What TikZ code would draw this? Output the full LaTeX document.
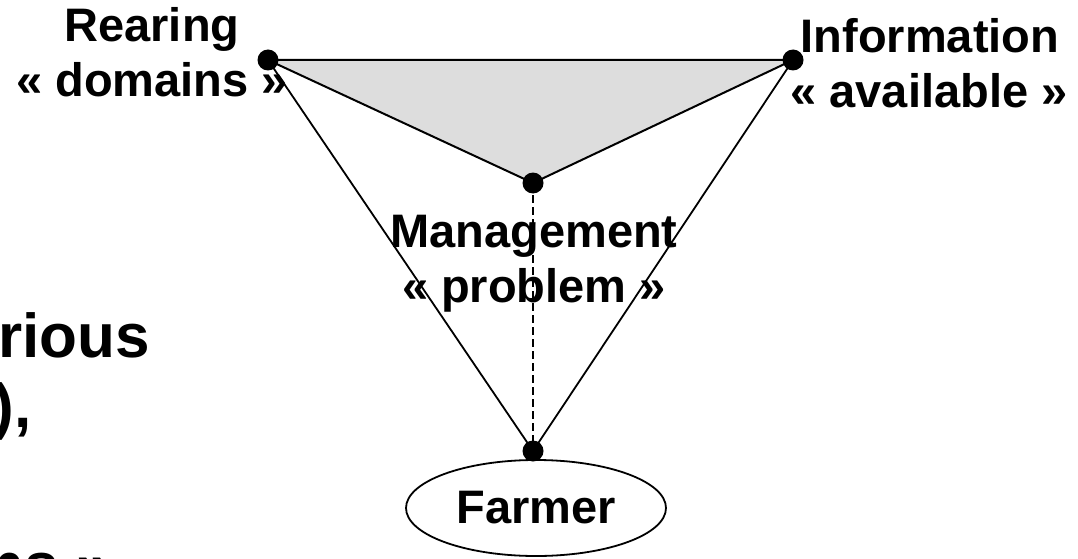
\documentclass[tikz,border=0pt]{standalone}
\usepackage{fontspec}
\setmainfont{Liberation Sans}
\usetikzlibrary{shapes.geometric}
\definecolor{shadegray}{RGB}{221,221,221}

\begin{document}
\begin{tikzpicture}[x=1pt,y=1pt,
    blob/.style={circle,fill=black,inner sep=0pt,minimum size=21pt},
    lbl/.style={font=\bfseries\fontsize{47}{55}\selectfont,inner sep=0pt,anchor=base},
    big/.style={font=\bfseries\fontsize{62}{74}\selectfont,inner sep=0pt,anchor=base east}]
        \useasboundingbox (0,0) rectangle (1078,558);
        % corners of the triangle
        \coordinate (rear) at (268,498);
        \coordinate (info) at (793,498);
        \coordinate (mgmt) at (533,375);
        \coordinate (farm) at (533,107);
        % shaded face
        \filldraw[fill=shadegray,line width=2pt,line join=round] (rear) -- (info) -- (mgmt) -- cycle;
        % sides down to the farmer
        \draw[line width=1.8pt] (rear) -- (farm);
        \draw[line width=1.8pt] (info) -- (farm);
        \draw[line width=1.6pt,dash pattern=on 8pt off 4pt] (mgmt) -- (farm);
        % dots
        \node[blob] (rdot) at (rear) {};
        \node[blob] (idot) at (info) {};
        \node[blob] (mdot) at (mgmt) {};
        \node[blob] (fdot) at (farm) {};
        % farmer
        \node[ellipse,draw,line width=1.8pt,minimum width=260pt,minimum height=96pt,inner sep=0pt,
              font=\bfseries\fontsize{47}{55}\selectfont] (farmer) at (536,50) {Farmer};
        % corner labels
        \node[lbl] (rearing) at (152,516) {Rearing};
        \node[lbl] (domains) at (152,461) {« domains »};
        \node[lbl] (information) at (930,505) {Information};
        \node[lbl] (available) at (929,450) {« available »};
        \node[lbl] (management) at (534,311) {Management};
        \node[lbl] (problem) at (534,256) {« problem »};
        % text cut at the left edge
        \node[big] (rious) at (150,201) {rious};
        \node[big] (paren) at (32,131) {),};
        \node[big] (ns) at (111,-28) {ns »};
    \end{tikzpicture}
\end{document}
